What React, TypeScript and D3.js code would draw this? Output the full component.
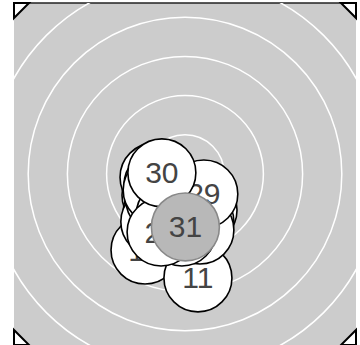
import React, { useEffect, useRef } from 'react';
import * as d3 from 'd3';

// shot positions in ring units (x right, y up), numbered in firing order
const shotLabels = [
  '1', '2', '3', '4', '5', '6', '7', '8', '9', '10',
  '11', '12', '13', '14', '15', '16', '17', '18', '19', '20',
  '21', '22', '23', '24', '25', '26', '27', '28', '29', '30', '31',
];
const shotX = [
  -0.74, -0.26, -0.79, 0.13, -0.51, 0.46, -0.43, -0.71, -0.13, -1.02,
  0.33, -0.33, 0.38, -0.69, 0.0, -0.38, -0.77, -0.18, 0.26, -0.51,
  0.08, -0.64, -0.26, 0.38, -0.71, -0.38, -0.08, -0.61, 0.48, -0.59, 0.01,
];
const shotY = [
  -0.54, -0.79, -0.08, -0.92, -1.05, -0.92, -0.41, -0.97, -1.22, -1.94,
  -2.65, -0.66, -1.22, -0.28, -0.66, -1.38, -1.22, -0.97, -0.79, -0.15,
  -1.12, -0.66, -0.46, -1.43, -0.41, -1.05, -1.48, -1.48, -0.51, 0.03, -1.35,
];
const ringRadii = [1, 2, 3, 4, 5, 6, 7];

const extent = 4.362;
const shotRadius = 0.867;

const App = () => {
  const ref = useRef<SVGSVGElement | null>(null);

  useEffect(() => {
    if (!ref.current) return;
    const svg = d3.select(ref.current);
    svg.selectAll('*').remove();

    const x = d3.scaleLinear().domain([-extent, extent]).range([14, 356]);
    const y = d3.scaleLinear().domain([-extent, extent]).range([345, 3]);
    const r = (v: number) => x(v) - x(0);

    const [x0, x1] = x.range();
    const [y1, y0] = y.range();

    svg
      .append('clipPath')
      .attr('id', 'target-clip')
      .append('rect')
      .attr('x', x0)
      .attr('y', y0)
      .attr('width', x1 - x0)
      .attr('height', y1 - y0);

    // target background
    svg
      .append('rect')
      .attr('x', x0)
      .attr('y', y0)
      .attr('width', x1 - x0)
      .attr('height', y1 - y0)
      .attr('fill', '#cccccc');

    svg
      .append('line')
      .attr('x1', x0)
      .attr('x2', x1)
      .attr('y1', y0)
      .attr('y2', y0)
      .attr('stroke', '#222')
      .attr('stroke-width', 1.5);

    // rings
    svg
      .append('g')
      .attr('clip-path', 'url(#target-clip)')
      .selectAll('circle')
      .data(ringRadii)
      .enter()
      .append('circle')
      .attr('cx', x(0))
      .attr('cy', y(0))
      .attr('r', (d) => r(d))
      .attr('fill', 'none')
      .attr('stroke', '#fff')
      .attr('stroke-width', 1.5);

    // shots
    const shots = shotLabels.map((label, i) => ({
      label,
      x: shotX[i],
      y: shotY[i],
      last: i === shotLabels.length - 1,
    }));

    const g = svg
      .append('g')
      .selectAll('g')
      .data(shots)
      .enter()
      .append('g')
      .attr('transform', (d) => `translate(${x(d.x)},${y(d.y)})`);

    g.append('circle')
      .attr('r', r(shotRadius))
      .attr('fill', (d) => (d.last ? '#b8b8b8' : '#fff'))
      .attr('stroke', (d) => (d.last ? '#888' : '#000'))
      .attr('stroke-width', 1.6);

    g.append('text')
      .attr('text-anchor', 'middle')
      .attr('dy', '0.35em')
      .attr('font-family', '"Liberation Sans", Arial, sans-serif')
      .attr('font-size', 30)
      .attr('fill', '#444')
      .text((d) => d.label);

    // corner markers
    const t = 15;
    const corners = [
      [[x0, y0], [x0 + t, y0], [x0, y0 + t]],
      [[x1, y0], [x1 - t, y0], [x1, y0 + t]],
      [[x0, y1], [x0 + t, y1], [x0, y1 - t]],
      [[x1, y1], [x1 - t, y1], [x1, y1 - t]],
    ];
    svg
      .append('g')
      .selectAll('path')
      .data(corners)
      .enter()
      .append('path')
      .attr('d', (d) => `M${d[0]}L${d[1]}L${d[2]}Z`)
      .attr('fill', '#fff')
      .attr('stroke', '#000')
      .attr('stroke-width', 2);
  }, []);

  return (
    <svg
      ref={ref}
      width={360}
      height={345}
      style={{ position: 'absolute', left: 0, top: 0 }}
    />
  );
};

export default App;
